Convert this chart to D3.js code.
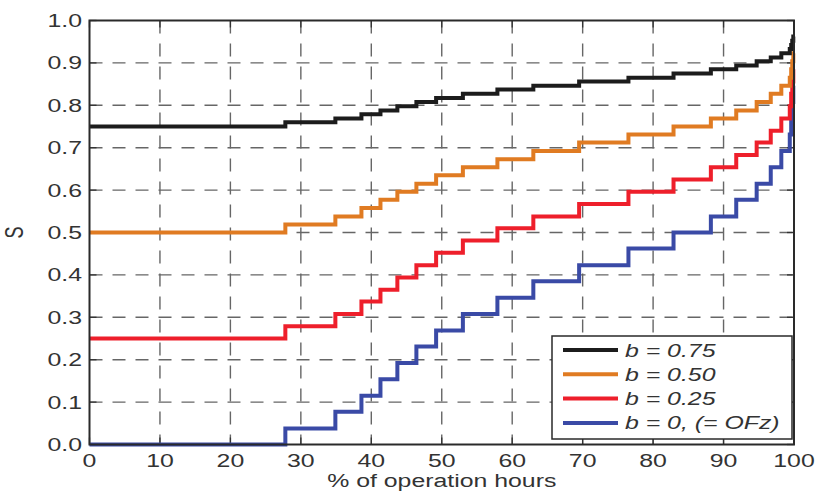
<!DOCTYPE html>
<html>
<head>
<meta charset="utf-8">
<script src="https://cdn.jsdelivr.net/npm/d3@7"></script>
<style>
  html, body { margin: 0; padding: 0; background: #fff; }
  svg { display: block; }
  text { font-family: "Liberation Sans", Arial, Helvetica, sans-serif; fill: #333; }
</style>
</head>
<body>
<svg id="chart" width="818" height="492"></svg>
<script>
// ---- data ----
const stepX = [0, 27.8, 34.9, 38.6, 41.3, 43.7, 46.4, 49.2, 53.0, 57.9, 63.0, 69.5, 76.5, 82.9, 88.2, 91.8, 94.7, 96.7, 98.2, 99.4, 99.6, 99.75, 99.9, 100];
const sB075 = [0.75, 0.760, 0.769, 0.779, 0.788, 0.798, 0.808, 0.817, 0.827, 0.837, 0.846, 0.856, 0.865, 0.875, 0.885, 0.894, 0.904, 0.913, 0.923, 0.933, 0.942, 0.952, 0.962, 0.962];
const sB050 = [0.5, 0.519, 0.538, 0.558, 0.577, 0.596, 0.615, 0.635, 0.654, 0.673, 0.692, 0.712, 0.731, 0.75, 0.769, 0.788, 0.808, 0.827, 0.846, 0.865, 0.885, 0.904, 0.923, 0.923];
const sB025 = [0.25, 0.279, 0.308, 0.337, 0.365, 0.394, 0.423, 0.452, 0.481, 0.510, 0.538, 0.567, 0.596, 0.625, 0.654, 0.683, 0.712, 0.740, 0.769, 0.798, 0.827, 0.856, 0.885, 0.885];
const sB000 = [0, 0.038, 0.077, 0.115, 0.154, 0.192, 0.231, 0.269, 0.308, 0.346, 0.385, 0.423, 0.462, 0.5, 0.538, 0.577, 0.615, 0.654, 0.692, 0.731, 0.769, 0.808, 0.846, 0.846];
const seriesNames = ["b = 0.75", "b = 0.50", "b = 0.25", "b = 0, (= OFz)"];
const seriesColors = ["#1c1c1c", "#e07b22", "#ee1f2b", "#3a4aa6"];
const xTicks = [0, 10, 20, 30, 40, 50, 60, 70, 80, 90, 100];
const yTicks = [0, 0.1, 0.2, 0.3, 0.4, 0.5, 0.6, 0.7, 0.8, 0.9, 1.0];
const xLabel = "% of operation hours";
const yLabel = "S";

// ---- layout ----
const SX = 1.38; // horizontal text stretch of the reference
const L = 89.5, R = 794, T = 20.5, B = 444.5;
const svg = d3.select("#chart");
const x = d3.scaleLinear().domain([0, 100]).range([L, R]);
const y = d3.scaleLinear().domain([0, 1]).range([B, T]);

// grid
const grid = svg.append("g");
grid.selectAll("line.vx").data(xTicks.slice(1, -1)).join("line")
  .attr("x1", d => x(d)).attr("x2", d => x(d)).attr("y1", T).attr("y2", B)
  .attr("stroke", "#666").attr("stroke-width", 1.4).attr("stroke-dasharray", "13,10");
grid.selectAll("line.hy").data(yTicks.slice(1, -1)).join("line")
  .attr("y1", d => y(d)).attr("y2", d => y(d)).attr("x1", L).attr("x2", R)
  .attr("stroke", "#666").attr("stroke-width", 1.4).attr("stroke-dasharray", "13,10");

// inner ticks on all sides
const tk = svg.append("g").attr("stroke", "#333").attr("stroke-width", 1.3);
xTicks.forEach(d => {
  tk.append("line").attr("x1", x(d)).attr("x2", x(d)).attr("y1", B).attr("y2", B - 7);
  tk.append("line").attr("x1", x(d)).attr("x2", x(d)).attr("y1", T).attr("y2", T + 7);
});
yTicks.forEach(d => {
  tk.append("line").attr("y1", y(d)).attr("y2", y(d)).attr("x1", L).attr("x2", L + 7);
  tk.append("line").attr("y1", y(d)).attr("y2", y(d)).attr("x1", R).attr("x2", R - 7);
});

// series
const allSeries = [sB075, sB050, sB025, sB000];
const line = d3.line().x(d => x(d[0])).y(d => y(d[1])).curve(d3.curveStepAfter);
allSeries.slice().reverse().forEach((vals, ri) => {
  const i = allSeries.length - 1 - ri;
  svg.append("path")
    .datum(stepX.map((xv, j) => [xv, vals[j]]))
    .attr("d", line).attr("fill", "none")
    .attr("stroke", seriesColors[i]).attr("stroke-width", 4)
    .attr("stroke-linejoin", "miter");
});

// frame
svg.append("rect").attr("x", L).attr("y", T).attr("width", R - L).attr("height", B - T)
  .attr("fill", "none").attr("stroke", "#2a2a2a").attr("stroke-width", 2);

// tick labels
const lab = svg.append("g").attr("font-size", 18);
xTicks.forEach(d => {
  lab.append("text").attr("text-anchor", "middle")
    .attr("transform", `translate(${x(d)},467) scale(${SX},1)`).text(d3.format("d")(d));
});
yTicks.forEach(d => {
  lab.append("text").attr("text-anchor", "end")
    .attr("transform", `translate(82,${y(d) + 6.5}) scale(${SX},1)`).text(d3.format(".1f")(d));
});

// axis labels
svg.append("text").attr("font-size", 18).attr("text-anchor", "middle")
  .attr("transform", `translate(${(L + R) / 2},487) scale(${SX},1)`).text(xLabel);
svg.append("text").attr("font-size", 18).attr("text-anchor", "middle")
  .attr("transform", `translate(23,${(T + B) / 2}) rotate(-90) scale(1,${SX})`).text(yLabel);

// legend
const lg = svg.append("g");
lg.append("rect").attr("x", 552).attr("y", 336).attr("width", 240).attr("height", 103)
  .attr("fill", "#fff").attr("stroke", "#2a2a2a").attr("stroke-width", 1.5);
seriesNames.forEach((n, i) => {
  const yy = 350 + i * 24.3;
  lg.append("line").attr("x1", 563).attr("x2", 618).attr("y1", yy).attr("y2", yy)
    .attr("stroke", seriesColors[i]).attr("stroke-width", 4);
  lg.append("text").attr("font-size", 18).attr("font-style", "italic")
    .attr("transform", `translate(625,${yy + 6.5}) scale(${SX},1)`).text(n);
});
</script>
</body>
</html>
